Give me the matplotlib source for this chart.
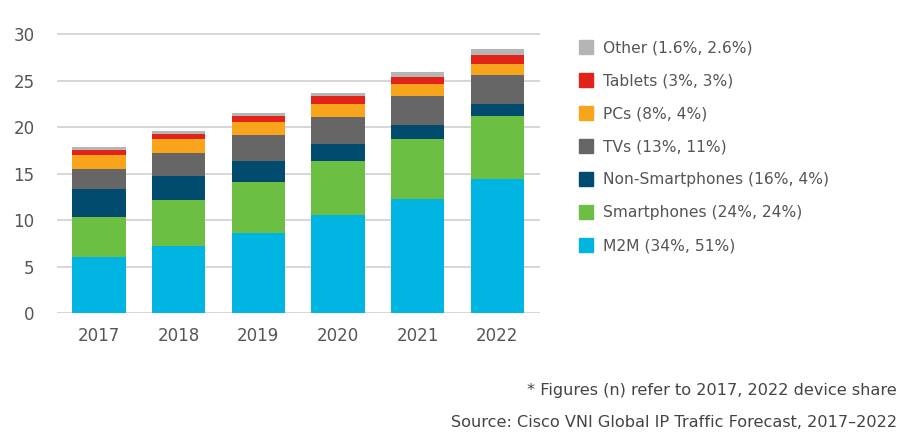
import numpy as np
import matplotlib.pyplot as plt
from matplotlib.patches import Patch

plt.rcParams['font.family'] = ['DejaVu Sans']

# données (exabytes / mois)
years = ['2017', '2018', '2019', '2020', '2021', '2022']
m2m = [6.0, 7.2, 8.6, 10.5, 12.3, 14.4]
smartphones = [4.3, 5.0, 5.5, 5.8, 6.4, 6.8]
non_smart = [3.0, 2.5, 2.2, 1.9, 1.5, 1.3]
tvs = [2.2, 2.5, 2.8, 2.9, 3.1, 3.1]
pcs = [1.5, 1.5, 1.4, 1.4, 1.3, 1.2]
tablets = [0.5, 0.5, 0.7, 0.8, 0.8, 0.9]
other = [0.4, 0.4, 0.3, 0.4, 0.5, 0.7]

labels = ['M2M (34%, 51%)', 'Smartphones (24%, 24%)', 'Non-Smartphones (16%, 4%)',
          'TVs (13%, 11%)', 'PCs (8%, 4%)', 'Tablets (3%, 3%)', 'Other (1.6%, 2.6%)']
series = [m2m, smartphones, non_smart, tvs, pcs, tablets, other]
colors = ['#00b5e2', '#6cbf43', '#004b6e', '#666666', '#f9a51b', '#e2231a', '#b5b5b5']

fig = plt.figure(figsize=(8.99, 4.41), dpi=100)
ax = fig.add_axes([0.063, 0.29, 0.538, 0.636])

x = np.arange(len(years))
bottom = np.zeros(len(years))
for vals, c in zip(series, colors):
    ax.bar(x, vals, bottom=bottom, width=0.67, color=c, zorder=3)
    bottom += np.array(vals)

ax.set_ylim(0, 30.15)
ax.set_xlim(-0.53, 5.54)
ax.set_yticks(range(0, 31, 5))
ax.set_xticks(x)
ax.set_xticklabels(years)
ax.grid(axis='y', color='#d0d0d0', lw=1.2, zorder=0)
for s in ax.spines.values():
    s.set_visible(False)
ax.tick_params(length=0, labelsize=12, colors='#555555')
ax.tick_params(axis='y', pad=16)
ax.tick_params(axis='x', pad=10)

handles = [Patch(color=c, label=l) for c, l in zip(colors, labels)][::-1]
fig.legend(handles=handles, loc='upper left', bbox_to_anchor=(0.628, 0.94),
           frameon=False, fontsize=11.2, labelcolor='#555555',
           handlelength=0.95, handleheight=0.95, handletextpad=0.6,
           labelspacing=1.15)

fig.text(0.998, 0.115, '* Figures (n) refer to 2017, 2022 device share',
         ha='right', va='center', fontsize=11.6, color='#444444')
fig.text(0.998, 0.043, 'Source: Cisco VNI Global IP Traffic Forecast, 2017\u20132022',
         ha='right', va='center', fontsize=11.6, color='#444444')

fig.savefig('out.png', dpi=100)
